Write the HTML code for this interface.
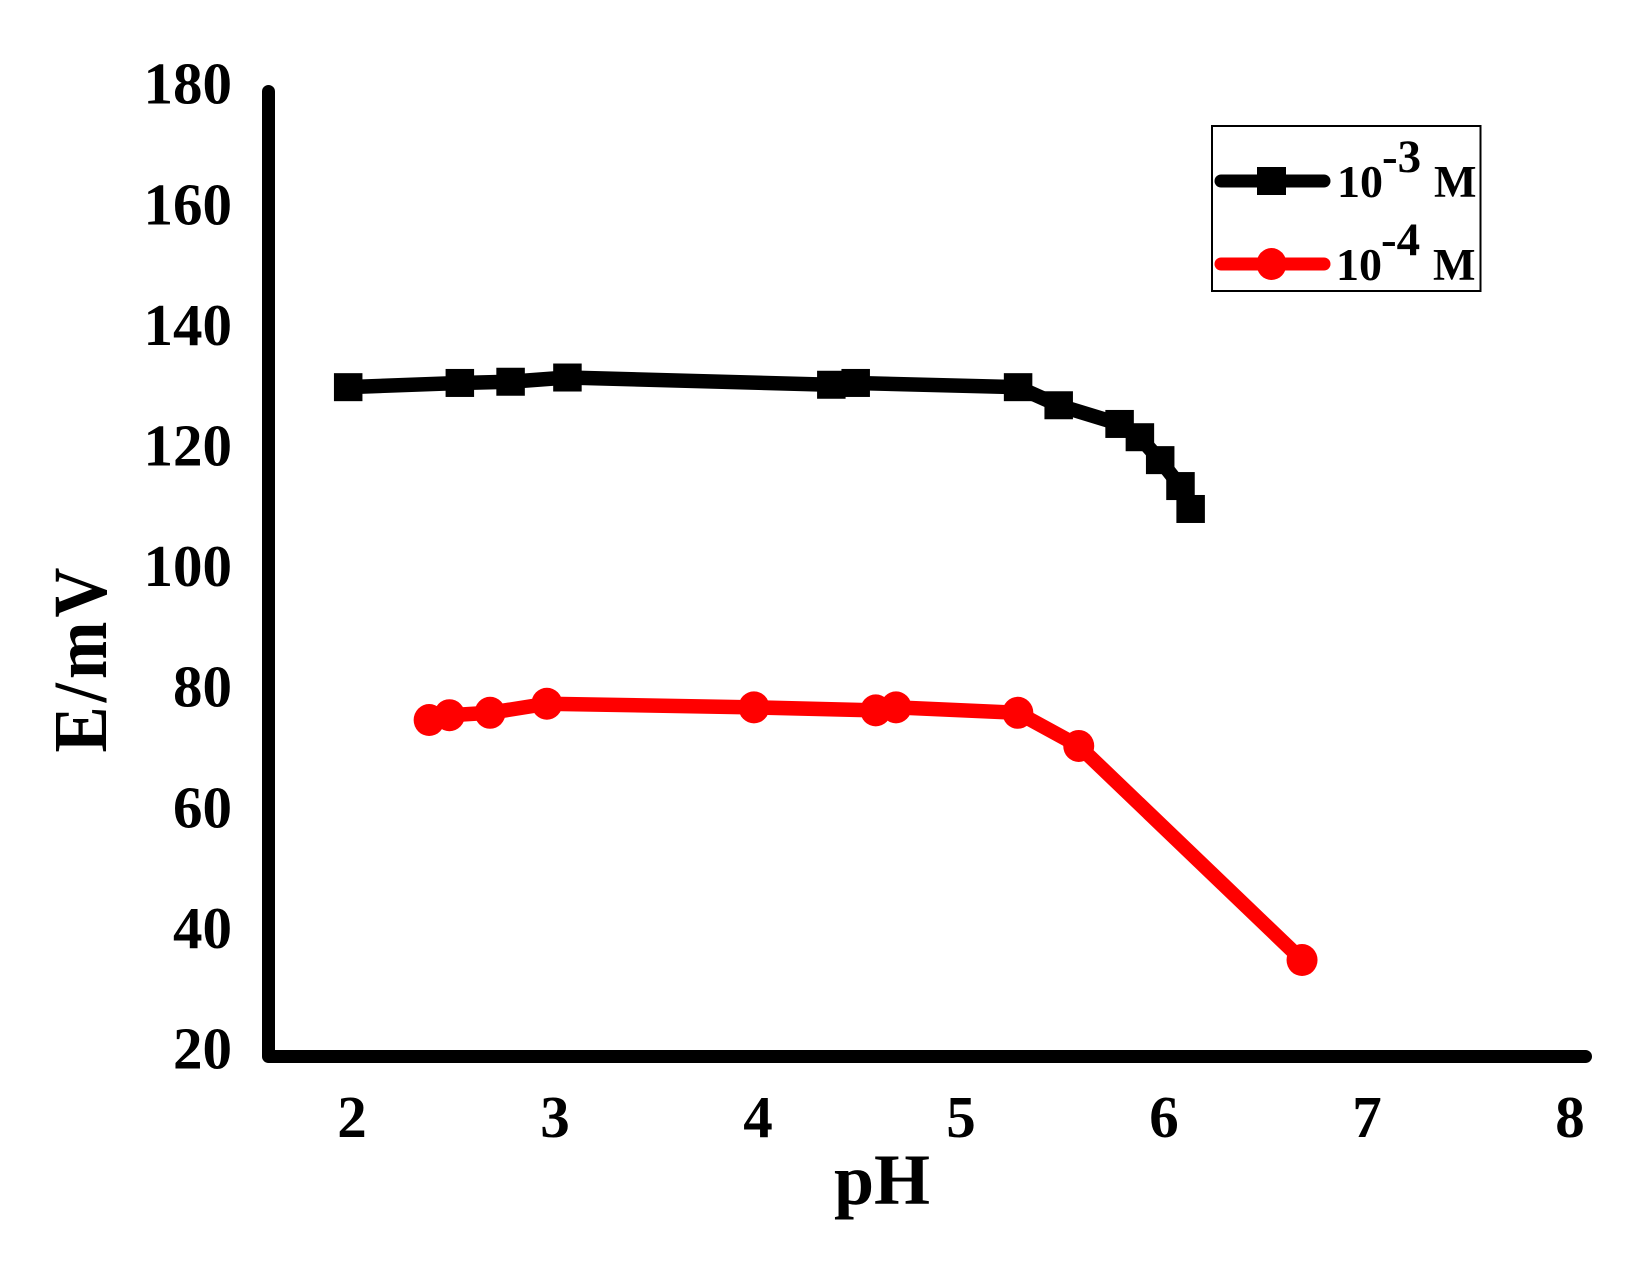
<!DOCTYPE html>
<html>
<head>
<meta charset="utf-8">
<title>E/mV vs pH</title>
<style>
html,body{margin:0;padding:0;background:#fff;}
svg{display:block;}
text{font-family:"Liberation Serif",serif;font-weight:bold;fill:#000;}
</style>
</head>
<body>
<svg id="chart" width="1636" height="1262" viewBox="0 0 1636 1262" xmlns="http://www.w3.org/2000/svg">
  <rect x="0" y="0" width="1636" height="1262" fill="#fff"/>
  <g id="series"></g>
  <path d="M268.5 91.5V1056.5H1585.5" fill="none" stroke="#000" stroke-width="13" stroke-linecap="round" stroke-linejoin="round"/>
  <g id="yticks"></g>
  <g id="xticks"></g>
  <text x="882" y="1204" font-size="72" text-anchor="middle">pH</text>
  <text transform="translate(106,658) rotate(-90) scale(.91,1)" font-size="76" letter-spacing="4.4" text-anchor="middle">E/mV</text>
  <g>
    <rect x="1212" y="126" width="268.5" height="165" fill="#fff" stroke="#000" stroke-width="2"/>
    <g>
      <line x1="1221" y1="181" x2="1324" y2="181" stroke="#000" stroke-width="13" stroke-linecap="round"/>
      <rect x="1257" y="167" width="29" height="28" fill="#000"/>
      <text x="1337" y="197" font-size="46">10</text>
      <text x="1382" y="172" font-size="47">-3</text>
      <text x="1434" y="197" font-size="45">M</text>
    </g>
    <g>
      <line x1="1221" y1="264" x2="1324" y2="264" stroke="#f00" stroke-width="13" stroke-linecap="round"/>
      <ellipse cx="1271.5" cy="264" rx="15" ry="16" fill="#f00"/>
      <text x="1336" y="280" font-size="46">10</text>
      <text x="1381" y="255" font-size="47">-4</text>
      <text x="1433" y="280" font-size="45">M</text>
    </g>
  </g>
</svg>
<script>
var yTickLabels = [20, 40, 60, 80, 100, 120, 140, 160, 180];
var xTickLabels = [2, 3, 4, 5, 6, 7, 8];
var blackX = [1.98, 2.53, 2.78, 3.06, 4.36, 4.48, 5.28, 5.48, 5.78, 5.88, 5.98, 6.08, 6.13];
var blackY = [131.0, 131.7, 131.9, 132.6, 131.4, 131.7, 131.0, 128.0, 124.9, 122.7, 118.9, 114.6, 110.8];
var redX = [2.38, 2.48, 2.68, 2.96, 3.98, 4.58, 4.68, 5.28, 5.58, 6.68];
var redY = [75.8, 76.6, 77.0, 78.5, 77.9, 77.4, 77.9, 77.0, 71.5, 36.0];

function xPos(v) { return 352 + (v - 2) * 203; }
function yPos(v) { return 1056.5 - (v - 20) * 6.03; }

var NS = 'http://www.w3.org/2000/svg';
function make(tag, attrs, parent) {
  var el = document.createElementNS(NS, tag);
  for (var k in attrs) { el.setAttribute(k, attrs[k]); }
  parent.appendChild(el);
  return el;
}

var yG = document.getElementById('yticks');
yTickLabels.forEach(function (v) {
  var t = make('text', { x: 232, y: yPos(v) + 12, 'font-size': 59, 'text-anchor': 'end' }, yG);
  
  
  t.textContent = v;
});

var xG = document.getElementById('xticks');
xTickLabels.forEach(function (v) {
  var t = make('text', { x: xPos(v), y: 1137, 'font-size': 59, 'text-anchor': 'middle' }, xG);
  
  
  t.textContent = v;
});

var sG = document.getElementById('series');
function polyPoints(xs, ys) {
  return xs.map(function (x, i) { return xPos(x) + ',' + yPos(ys[i]); }).join(' ');
}

var blackLine = make('polyline', { points: polyPoints(blackX, blackY), fill: 'none', stroke: '#000', 'stroke-width': 14.5, 'stroke-linejoin': 'round', 'stroke-linecap': 'round' }, sG);


blackX.forEach(function (x, i) {
  var m = make('rect', { x: xPos(x) - 14, y: yPos(blackY[i]) - 14, width: 28.5, height: 28, fill: '#000' }, sG);
  
  
});

var redLine = make('polyline', { points: polyPoints(redX, redY), fill: 'none', stroke: '#f00', 'stroke-width': 14.5, 'stroke-linejoin': 'round', 'stroke-linecap': 'round' }, sG);


redX.forEach(function (x, i) {
  var c = make('ellipse', { cx: xPos(x), cy: yPos(redY[i]), rx: 15.5, ry: 16, fill: '#f00' }, sG);
  
  
});
</script>
</body>
</html>
